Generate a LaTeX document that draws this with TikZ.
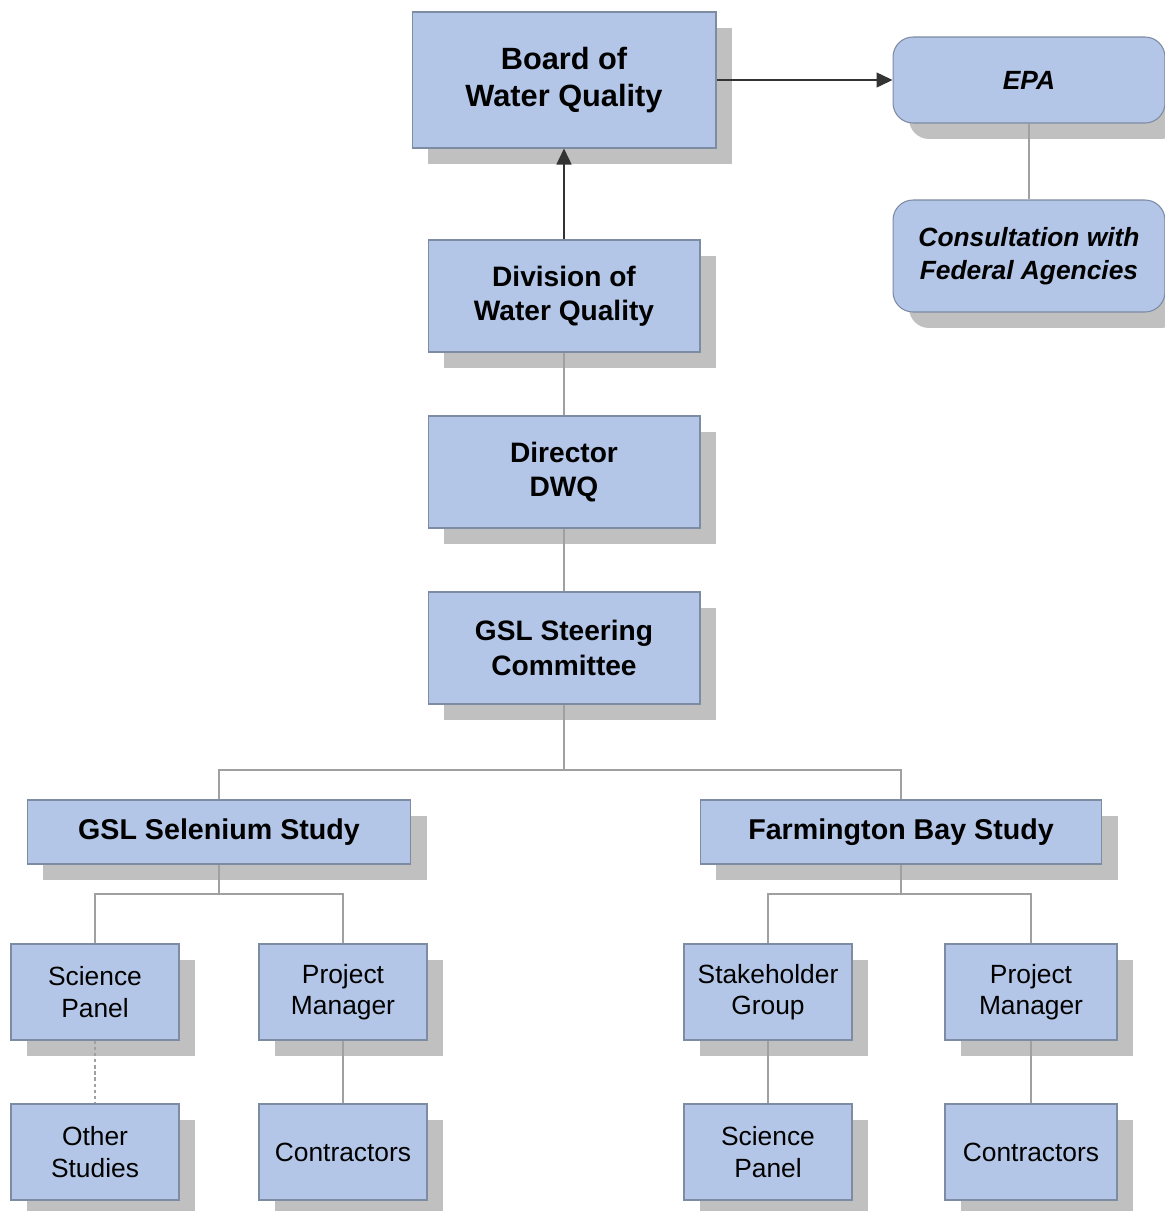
\documentclass[tikz,border=0pt]{standalone}
\usepackage{fontspec}
\setmainfont{Liberation Sans}
\usetikzlibrary{shadows,arrows.meta}
\definecolor{boxfill}{HTML}{B3C6E7}
\definecolor{boxline}{HTML}{7D8BA3}
\definecolor{shadowgray}{HTML}{C0C0C0}
\definecolor{linkgray}{HTML}{A0A0A0}
\tikzset{
  box/.style={draw=boxline, line width=0.6pt, fill=boxfill, align=center,
    inner sep=0pt, text=black,
    drop shadow={shadow xshift=0.32cm, shadow yshift=-0.32cm, opacity=1, fill=shadowgray}},
  bigbox/.style={box, minimum width=5.44cm, minimum height=2.24cm,
    font=\bfseries\fontsize{16}{19.5}\selectfont},
  roundbox/.style={bigbox, rounded corners=0.4cm, font=\bfseries\itshape\fontsize{15}{18.5}\selectfont},
  studybox/.style={box, minimum height=1.28cm, font=\bfseries\fontsize{16.3}{19.5}\selectfont},
  smallbox/.style={box, minimum width=3.36cm, minimum height=1.92cm,
    font=\fontsize{15}{18}\selectfont},
  link/.style={draw=linkgray, line width=0.7pt},
  arrowlink/.style={draw=black!80, line width=0.8pt, -{Triangle[length=0.32cm, width=0.3cm]}}
}
\begin{document}
\begin{tikzpicture}[x=0.02cm, y=-0.02cm]
\useasboundingbox (0,0) rectangle (1165,1211);
% top of the chart
\node[bigbox, minimum width=6.08cm, minimum height=2.72cm,
  font=\bfseries\fontsize{17.5}{21}\selectfont] (board) at (564,80) {Board of\\Water Quality};
\node[roundbox, minimum height=1.72cm] (epa) at (1029,80) {EPA};
\node[roundbox] (consult) at (1029,256) {Consultation with\\Federal Agencies};
\node[bigbox] (division) at (564,296) {Division of\\Water Quality};
\node[bigbox] (director) at (564,472) {Director\\DWQ};
\node[bigbox] (steering) at (564,648) {GSL Steering\\Committee};
% the two studies
\node[studybox, minimum width=7.68cm] (selenium) at (219,832) {GSL Selenium Study};
\node[studybox, minimum width=8.04cm] (farmington) at (901,832) {Farmington Bay Study};
% bottom rows
\node[smallbox] (scienceL) at (95,992) {Science\\Panel};
\node[smallbox] (managerL) at (343,992) {Project\\Manager};
\node[smallbox] (stakeholder) at (768,992) {Stakeholder\\Group};
\node[smallbox, minimum width=3.44cm] (managerR) at (1031,992) {Project\\Manager};
\node[smallbox] (other) at (95,1152) {Other\\Studies};
\node[smallbox] (contractorsL) at (343,1152) {Contractors};
\node[smallbox] (scienceR) at (768,1152) {Science\\Panel};
\node[smallbox, minimum width=3.44cm] (contractorsR) at (1031,1152) {Contractors};
\coordinate (split1) at (564,770);
\coordinate (split2) at (219,894);
\coordinate (split3) at (901,894);
% connectors
\draw[arrowlink] (division.north) -- (board.south);
\draw[arrowlink] (board.east) -- (epa.west);
\draw[link] (epa.south) -- (consult.north);
\draw[link] (division.south) -- (director.north);
\draw[link] (director.south) -- (steering.north);
\draw[link] (steering.south) -- (split1);
\draw[link] (selenium.north) |- (split1) -| (farmington.north);
\draw[link] (selenium.south) -- (split2);
\draw[link] (scienceL.north) |- (split2) -| (managerL.north);
\draw[link] (farmington.south) -- (split3);
\draw[link] (stakeholder.north) |- (split3) -| (managerR.north);
\draw[link, dash pattern=on 2pt off 1.5pt] (scienceL.south) -- (other.north);
\draw[link] (managerL.south) -- (contractorsL.north);
\draw[link] (stakeholder.south) -- (scienceR.north);
\draw[link] (managerR.south) -- (contractorsR.north);
\end{tikzpicture}
\end{document}
